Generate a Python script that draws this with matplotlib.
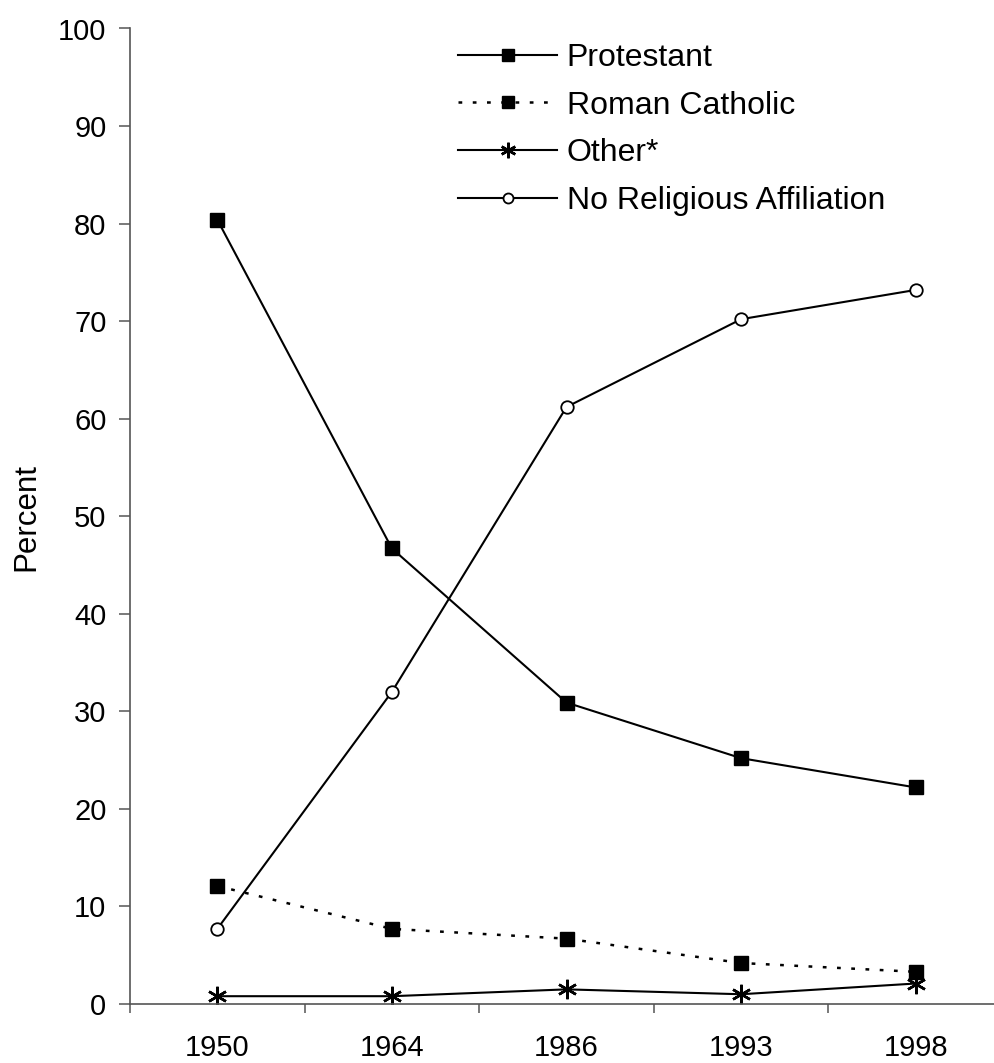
import matplotlib.pyplot as plt
from matplotlib.ticker import FixedLocator

years = ['1950', '1964', '1986', '1993', '1998']
protestant = [80.4, 46.7, 30.9, 25.2, 22.2]
catholic = [12.1, 7.7, 6.7, 4.2, 3.3]
other = [0.8, 0.8, 1.5, 1.0, 2.1]
no_religion = [7.7, 32.0, 61.2, 70.2, 73.2]

plt.rcParams['font.family'] = ['Liberation Sans', 'DejaVu Sans']

fig = plt.figure(figsize=(9.94, 10.63), dpi=100)
ax = fig.add_axes([130 / 994, 1 - 1004 / 1063, 873 / 994, 975.5 / 1063])

x = list(range(len(years)))
ax.plot(x, protestant, color='black', lw=1.5, marker='s', ms=10.5,
        label='Protestant')
ax.plot(x, catholic, color='black', lw=1.8, ls=(0, (1.5, 4.2)), marker='s', ms=10.5,
        label='Roman Catholic')
ax.plot(x, other, color='black', lw=1.5, marker=(6, 2, 0), ms=14, mew=1.8,
        label='Other*')
ax.plot(x, no_religion, color='black', lw=1.5, marker='o', ms=9,
        mfc='white', mec='black', mew=1.3, label='No Religious Affiliation')

ax.set_xlim(-0.5, 4.5)
ax.set_ylim(0, 100)
ax.set_yticks(range(0, 101, 10))
ax.set_xticks(x)
ax.set_xticklabels(years)
ax.xaxis.set_minor_locator(FixedLocator([i - 0.5 for i in range(len(years) + 1)]))

for side in ['top', 'right']:
    ax.spines[side].set_visible(False)
for side in ['left', 'bottom']:
    ax.spines[side].set_color('#555555')
    ax.spines[side].set_linewidth(1.2)

ax.tick_params(axis='y', direction='out', length=8, width=1.1, color='#555555',
               labelsize=21, pad=9)
ax.tick_params(axis='x', which='major', length=0, labelsize=21, pad=21.5)
ax.tick_params(axis='x', which='minor', direction='out', length=6.5, width=1.1,
               color='#555555')

fig.text(26 / 994, 1 - 517 / 1063, 'Percent', rotation=90, va='center', ha='center',
         fontsize=22.5)

leg = ax.legend(loc='upper left', bbox_to_anchor=(458 / 994, 1 - 43 / 1063),
                bbox_transform=fig.transFigure, frameon=False, fontsize=23,
                borderpad=0, borderaxespad=0, handlelength=3.1, handletextpad=0.3,
                labelspacing=0.55, markerscale=0.8)

fig.savefig('out.png', dpi=100)
